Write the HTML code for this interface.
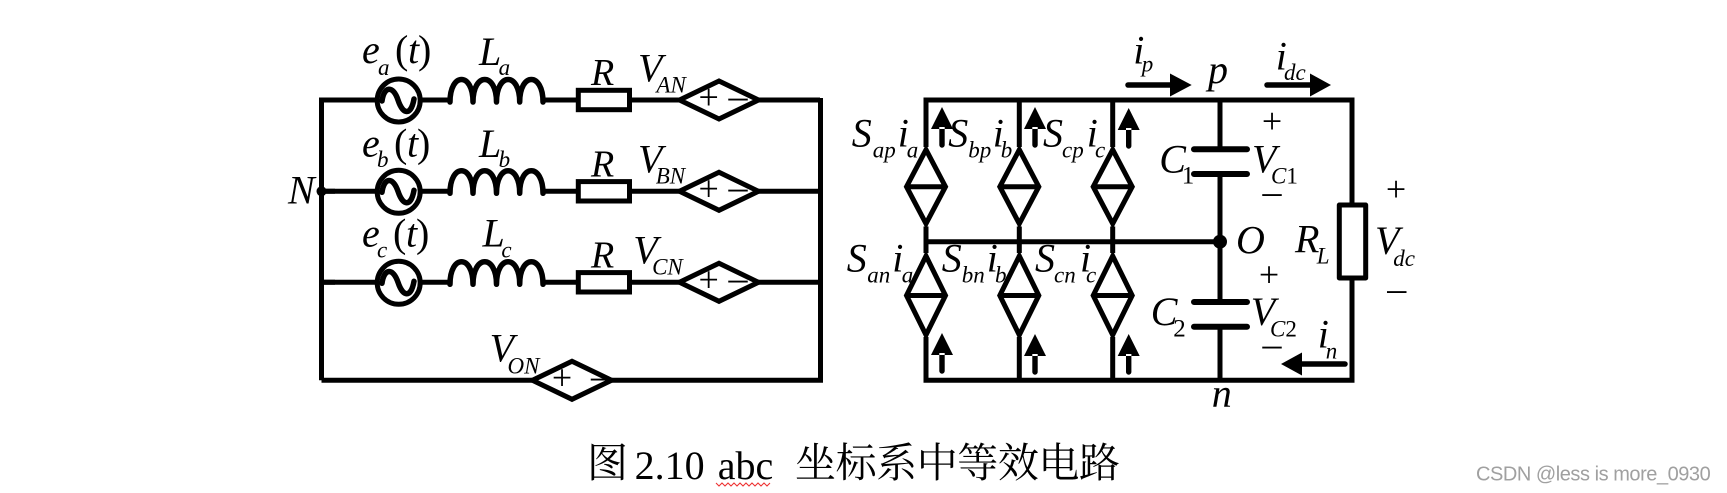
<!DOCTYPE html>
<html><head><meta charset="utf-8">
<style>
html,body{margin:0;padding:0;background:#fff;width:1727px;height:493px;overflow:hidden}
svg{display:block}
text{font-family:"Liberation Serif","Noto Serif CJK SC",serif;fill:#000}
.m{font-style:italic;font-size:40px}
.s{font-style:italic;font-size:23px}
.u{font-style:normal}
.p{font-size:36px;text-anchor:middle}
.d{font-size:38px;text-anchor:middle}
.w{fill:none;stroke:#000;stroke-width:5;stroke-linejoin:miter}
.r{fill:none;stroke:#000;stroke-width:5.500;stroke-linecap:round;stroke-linejoin:round}
</style></head><body>
<svg width="1727" height="493" viewBox="0 0 1727 493" xmlns="http://www.w3.org/2000/svg">
<defs>
<g id="row">
<path class="w" d="M376,100H322M420,100H450M543,100H578M630,100H680M758,100H820"/>
<circle class="w" cx="398.700" cy="100.500" r="21.500"/>
<path class="w" style="stroke-width:5.500" stroke-linecap="round" d="M382,101C384,86 393,85 398,100S411,116 414,99"/>
<path class="r" d="M450,102C450,72 473,72 473,102C473,72 496.500,72 496.500,102C496.500,72 519.700,72 519.700,102C519.700,72 543,72 543,102"/>
<rect class="w" x="578.300" y="90.300" width="51.200" height="19.400"/>
<path class="w" d="M679.500,100L719,81L758.500,100L719,119Z"/>
</g>
<g id="dia">
<path class="w" d="M0,-37L19.500,0L0,37L-19.500,0Z M-19.500,0H19.500"/>
</g>
<path id="up" d="M-11,22L0,0L11,22Z M-2.700,20V38A2.700,2.700 0 0 0 2.700,38V20Z"/>
</defs>

<path class="w" d="M321.500,380.300V100H335M321.500,282.300H335M321.500,191.300H335M820.500,98V380.300H612M532,380.300H321.500" stroke-linejoin="round"/>
<use href="#row"/>
<use href="#row" y="91.300"/>
<use href="#row" y="182.300"/>
<path class="w" d="M532.500,380.300L572,361.300L611.500,380.300L572,399.300Z"/>
<circle cx="321.500" cy="191.300" r="5"/>

<!-- Left labels -->
<text class="m" x="362" y="63">e</text><text class="s" x="378" y="75">a</text>
<text class="m u" x="395" y="63">(</text><text class="m" x="408" y="63">t</text><text class="m u" x="418" y="63">)</text>
<text class="m" x="479" y="65">L</text><text class="s" x="498.600" y="75">a</text>
<text class="m" x="591" y="85" style="font-size:38px">R</text>
<text class="m" x="638" y="81.700">V</text><text class="s" x="656.400" y="92.700">AN</text>

<text class="m" x="362" y="156.700">e</text><text class="s" x="377" y="167">b</text>
<text class="m u" x="394" y="156.700">(</text><text class="m" x="407" y="156.700">t</text><text class="m u" x="417" y="156.700">)</text>
<text class="m" x="479" y="157">L</text><text class="s" x="498.600" y="167">b</text>
<text class="m" x="591" y="176.700" style="font-size:38px">R</text>
<text class="m" x="638" y="172.700">V</text><text class="s" x="655.700" y="183.700">BN</text>
<text class="m" x="288" y="203.300">N</text>

<text class="m" x="362" y="246.700">e</text><text class="s" x="377" y="257.700">c</text>
<text class="m u" x="393" y="246.700">(</text><text class="m" x="406" y="246.700">t</text><text class="m u" x="416" y="246.700">)</text>
<text class="m" x="482.500" y="246.700">L</text><text class="s" x="501.400" y="257.700">c</text>
<text class="m" x="591" y="267.700" style="font-size:38px">R</text>
<text class="m" x="633.200" y="263.300">V</text><text class="s" x="652.100" y="274.300">CN</text>

<text class="m" x="489.600" y="361.700">V</text><text class="s" x="507.500" y="373.700">ON</text>

<text class="p" x="708.600" y="109">+</text><text class="d" x="738" y="108.400">–</text>
<text class="p" x="708.600" y="200.300">+</text><text class="d" x="738" y="199.700">–</text>
<text class="p" x="708.600" y="291.300">+</text><text class="d" x="738" y="290.700">–</text>
<text class="p" x="562" y="389.300">+</text><text class="d" x="600.500" y="388.700">–</text>

<!-- Right circuit -->
<path class="w" d="M926,380.300V100H1352V380.300H926Z" stroke-linejoin="round"/>
<path class="w" d="M926,241.700H1220M1019.300,100V380.300M1112.700,100V380.300"/>
<rect x="900" y="147" width="240" height="79.500" fill="#fff"/>
<rect x="900" y="253" width="240" height="84" fill="#fff"/>
<g transform="translate(926,186.700)"><use href="#dia"/></g>
<g transform="translate(1019.300,186.700)"><use href="#dia"/></g>
<g transform="translate(1112.700,186.700)"><use href="#dia"/></g>
<g transform="translate(926,295.500)"><path class="w" d="M0,-39.500L19.500,0L0,39.500L-19.500,0Z M-19.500,0H19.500"/></g>
<g transform="translate(1019.300,295.500)"><path class="w" d="M0,-39.500L19.500,0L0,39.500L-19.500,0Z M-19.500,0H19.500"/></g>
<g transform="translate(1112.700,295.500)"><path class="w" d="M0,-39.500L19.500,0L0,39.500L-19.500,0Z M-19.500,0H19.500"/></g>

<use href="#up" x="942" y="107"/><use href="#up" x="1035" y="107"/><use href="#up" x="1128.700" y="108"/>
<use href="#up" x="942" y="333"/><use href="#up" x="1035" y="334"/><use href="#up" x="1128.700" y="334"/>

<path class="w" d="M1220,100V380.300"/>
<rect x="1190" y="152" width="62" height="20" fill="#fff"/>
<rect x="1190" y="305" width="62" height="19" fill="#fff"/>
<path d="M1194,149.300H1247M1194,174H1247M1194,302H1247M1194,326.700H1247" stroke="#000" stroke-width="6" stroke-linecap="round"/>
<circle cx="1220" cy="241.700" r="7"/>

<rect x="1339.300" y="205" width="26.400" height="73" fill="#fff" stroke="#000" stroke-width="5" stroke-linejoin="round"/>

<!-- Horizontal arrows -->
<path class="r" d="M1128,85H1172"/><path d="M1170,73.500L1191.700,85L1170,96.500Z"/>
<path class="r" d="M1267,85H1312"/><path d="M1310,73.500L1331,85L1310,96.500Z"/>
<path class="r" d="M1345,364H1300"/><path d="M1302,352.500L1281,364L1302,375.500Z"/>

<!-- Right labels -->
<text class="m" x="851.700" y="146.700">S</text><text class="s" x="872.700" y="157.700">ap</text><text class="m" x="897.700" y="146.700">i</text><text class="s" x="906.700" y="157.700">a</text>
<text class="m" x="948.300" y="146.700">S</text><text class="s" x="968.300" y="157.700">bp</text><text class="m" x="992.700" y="146.700">i</text><text class="s" x="1000.700" y="157.700">b</text>
<text class="m" x="1043" y="146.700">S</text><text class="s" x="1062" y="157.700">cp</text><text class="m" x="1086.700" y="146.700">i</text><text class="s" x="1095" y="157.700">c</text>
<text class="m" x="846.700" y="271.700">S</text><text class="s" x="867.300" y="282.700">an</text><text class="m" x="892.300" y="271.700">i</text><text class="s" x="901.700" y="282.700">a</text>
<text class="m" x="941.700" y="271.700">S</text><text class="s" x="961.700" y="282.700">bn</text><text class="m" x="986.700" y="271.700">i</text><text class="s" x="995" y="282.700">b</text>
<text class="m" x="1035" y="271.700">S</text><text class="s" x="1054" y="282.700">cn</text><text class="m" x="1080" y="271.700">i</text><text class="s" x="1086" y="282.700">c</text>

<text class="m" x="1133.300" y="63.300">i</text><text class="s" x="1141.700" y="71.700">p</text>
<text class="m" x="1208" y="83">p</text>
<text class="m" x="1275.700" y="69.300">i</text><text class="s" x="1284" y="80">dc</text>

<text class="m" x="1159.300" y="172.700">C</text><text class="s u" x="1181.700" y="183.700" style="font-size:25px">1</text>
<text class="m" x="1252" y="172.700">V</text><text class="s" x="1271" y="183.700">C<tspan class="u">1</tspan></text>
<text class="m" x="1150.700" y="325">C</text><text class="s u" x="1173.300" y="336.700" style="font-size:25px">2</text>
<text class="m" x="1250.700" y="325">V</text><text class="s" x="1270" y="336.700">C<tspan class="u">2</tspan></text>
<text class="m" x="1236" y="253.300">O</text>
<text class="m" x="1295" y="252.300">R</text><text class="s" x="1316.700" y="263.300">L</text>
<text class="m" x="1375" y="254">V</text><text class="s" x="1393.300" y="266">dc</text>
<text class="m" x="1317.700" y="347.700">i</text><text class="s" x="1325.700" y="358.700">n</text>
<text class="m" x="1211.700" y="406.700">n</text>

<text class="p" x="1272" y="133">+</text><text class="d" x="1272" y="204.100">–</text>
<text class="p" x="1396" y="201">+</text><text class="d" x="1396.700" y="301.100">–</text>
<text class="p" x="1269" y="286.300">+</text><text class="d" x="1272" y="356.700">–</text>

<!-- Caption -->
<text x="587" y="477" style="font-size:41px">图</text>
<text x="634.600" y="479" style="font-size:40px">2.10</text>
<text x="717.700" y="479" style="font-size:40px">abc</text>
<text x="795" y="477" style="font-size:41px" textLength="325">坐标系中等效电路</text>
<path d="M716,483l3,3l3,-3l3,3l3,-3l3,3l3,-3l3,3l3,-3l3,3l3,-3l3,3l3,-3l3,3l3,-3l3,3l3,-3l3,3l3,-3" fill="none" stroke="#e33" stroke-width="1.100"/>

<text x="1476" y="480.700" style="font-family:'Liberation Sans',sans-serif;font-size:20px;fill:#a0a0a0" textLength="234.700">CSDN @less is more_0930</text>
</svg>
</body></html>
